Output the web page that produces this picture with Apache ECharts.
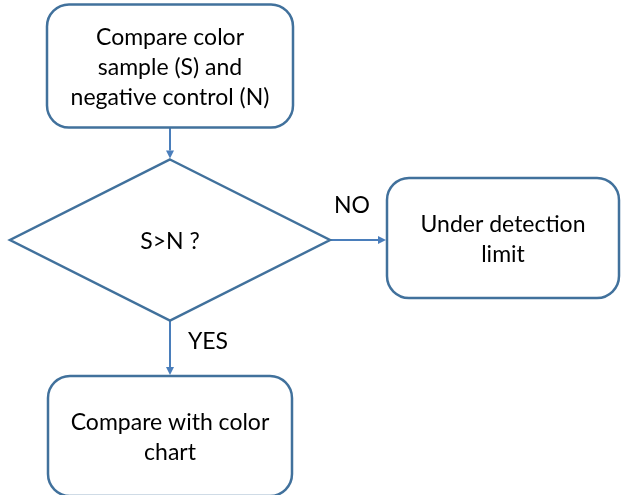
<!DOCTYPE html>
<html>
<head>
<meta charset="utf-8">
<script src="https://cdn.jsdelivr.net/npm/echarts@6/dist/echarts.min.js"></script>
<style>
  html, body { margin: 0; padding: 0; background: #fff; }
  #flow-chart { width: 623px; height: 495px; }
</style>
</head>
<body>
<div id="flow-chart"></div>
<script>
// flowchart steps (centre of each step on the hidden axes)
const stepLabels = [
  "Compare color\nsample (S) and\nnegative control (N)",
  "S>N ?",
  "Under detection\nlimit",
  "Compare with color\nchart"
];
const stepKinds = ["process", "decision", "process", "process"];
const stepX = [170, 170, 503, 170];
const stepY = [66, 240, 238, 436];

// links between steps: from, to, label
const linkFrom = [0, 1, 1];
const linkTo = [1, 2, 3];
const linkLabels = ["", "NO", "YES"];

// shape sizes in axis units
const stepW = { 0: 246, 1: 320, 2: 232, 3: 244 };
const stepH = { 0: 123, 1: 161, 2: 120, 3: 120 };

const boxColor = "#41719C";
const arrowColor = "#4A7EBB";
const font = "23px Lato";

const chart = echarts.init(document.getElementById("flow-chart"));

function renderStep(params, api) {
  const i = params.dataIndex;
  const c = api.coord([api.value(0), api.value(1)]);
  const s = api.size([stepW[i], stepH[i]]);
  const w = s[0], h = s[1];
  let shape;
  if (stepKinds[i] === "decision") {
    shape = {
      type: "polygon",
      shape: { points: [[c[0], c[1] - h / 2], [c[0] + w / 2, c[1]], [c[0], c[1] + h / 2], [c[0] - w / 2, c[1]]] },
      style: { fill: "#fff", stroke: boxColor, lineWidth: 2.5 }
    };
  } else {
    shape = {
      type: "rect",
      shape: { x: c[0] - w / 2, y: c[1] - h / 2, width: w, height: h, r: 22 },
      style: { fill: "#fff", stroke: boxColor, lineWidth: 2.5 }
    };
  }
  return {
    type: "group",
    children: [
      shape,
      {
        type: "text",
        style: {
          text: stepLabels[i], x: c[0], y: c[1] + 2, align: "center", verticalAlign: "middle",
          font: font, lineHeight: 30, fill: "#000"
        }
      }
    ]
  };
}

function renderLink(params, api) {
  const a = api.value(0), b = api.value(1);
  const pa = api.coord([stepX[a], stepY[a]]);
  const pb = api.coord([stepX[b], stepY[b]]);
  const sa = api.size([stepW[a], stepH[a]]);
  const sb = api.size([stepW[b], stepH[b]]);
  let p1, p2, lab, dir;
  if (Math.abs(pa[0] - pb[0]) < 1) {
    p1 = [pa[0], pa[1] + sa[1] / 2];
    p2 = [pb[0], pb[1] - sb[1] / 2 - 1];
    dir = [0, 1];
    lab = [p1[0] + 38, (p1[1] + p2[1]) / 2 - 6];
  } else {
    p1 = [pa[0] + sa[0] / 2, pa[1]];
    p2 = [pb[0] - sb[0] / 2 - 1, pa[1]];
    dir = [1, 0];
    lab = [(p1[0] + p2[0]) / 2 - 6, p1[1] - 34];
  }
  const L = 8, W = 4;
  const base = [p2[0] - dir[0] * L, p2[1] - dir[1] * L];
  const nrm = [-dir[1], dir[0]];
  return {
    type: "group",
    children: [
      { type: "line", shape: { x1: p1[0], y1: p1[1], x2: base[0], y2: base[1] },
        style: { stroke: arrowColor, lineWidth: 2 } },
      { type: "polygon",
        shape: { points: [p2, [base[0] + nrm[0] * W, base[1] + nrm[1] * W], [base[0] - nrm[0] * W, base[1] - nrm[1] * W]] },
        style: { fill: arrowColor } },
      { type: "text",
        style: { text: linkLabels[params.dataIndex], x: lab[0], y: lab[1], align: "center",
          verticalAlign: "middle", font: font, fill: "#000" } }
    ]
  };
}

const options = {
  animation: false,
  grid: { left: 0, right: 0, top: 0, bottom: 0 },
  xAxis: { type: "value", min: 0, max: 623, show: false },
  yAxis: { type: "value", min: 0, max: 495, inverse: true, show: false },
  series: [
    {
      type: "custom",
      renderItem: renderLink,
      data: linkFrom.map((f, i) => [f, linkTo[i]]),
      z: 1
    },
    {
      type: "custom",
      renderItem: renderStep,
      data: stepX.map((x, i) => [x, stepY[i]]),
      z: 2
    }
  ]
};
chart.setOption(options);
</script>
</body>
</html>
